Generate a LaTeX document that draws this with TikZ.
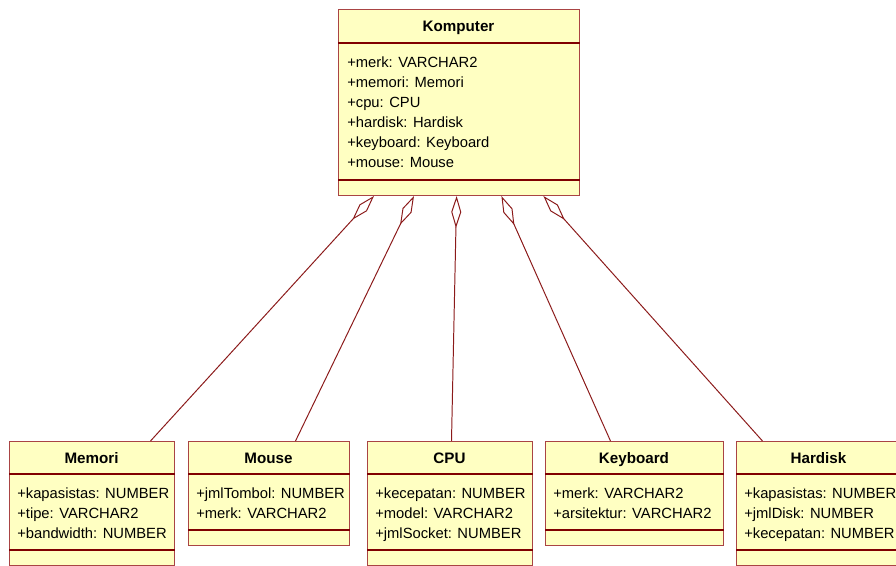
\documentclass[tikz,border=0pt]{standalone}
\usepackage{fontspec}
\setmainfont{Liberation Sans}
\usetikzlibrary{arrows.meta, positioning}
\definecolor{umlfill}{HTML}{FFFFC2}
\definecolor{umlborder}{HTML}{A94444}
\definecolor{umlsep}{HTML}{800000}
\definecolor{umlline}{HTML}{8B1A1A}

\begin{document}
\begin{tikzpicture}[
  every node/.style={font=\fontsize{10.5}{14.2}\selectfont},
  classbox/.style={rectangle, draw=umlborder, fill=umlfill, line width=0.7pt, anchor=north west, inner sep=0pt, minimum width=#1},
  classtitle/.style={font=\fontsize{10.8}{14.2}\selectfont\bfseries, inner sep=0pt, anchor=base},
  attrs/.style={align=left, anchor=north west, inner sep=0pt},
  sepline/.style={umlsep, line width=1.5pt},
  aggr/.style={umlline, line width=0.7pt, {Diamond[open, length=0.8cm, width=0.25cm]}-},
]
\useasboundingbox (0,0) rectangle (22.4,-14.15);

% Komputer
\node[classbox=6.025cm, minimum height=4.65cm] (komputer) at (8.45, -0.225) {};
\node[classtitle] (komputer-t) at (11.4625, -0.78) {Komputer};
\node[attrs] (komputer-a) at (8.675, -1.415) {+merk: VARCHAR2\\+memori: Memori\\+cpu: CPU\\+hardisk: Hardisk\\+keyboard: Keyboard\\+mouse: Mouse};
\draw[sepline] ([yshift=-0.85cm]komputer.north west) -- ([yshift=-0.85cm]komputer.north east);
\draw[sepline] ([yshift=0.4cm]komputer.south west) -- ([yshift=0.4cm]komputer.south east);

% Memori
\node[classbox=4.125cm, minimum height=3.1cm] (memori) at (0.225, -11.025) {};
\node[classtitle] (memori-t) at (2.2875, -11.58) {Memori};
\node[attrs] (memori-a) at (0.425, -12.195) {+kapasistas: NUMBER\\+tipe: VARCHAR2\\+bandwidth: NUMBER};
\draw[sepline] ([yshift=-0.825cm]memori.north west) -- ([yshift=-0.825cm]memori.north east);
\draw[sepline] ([yshift=0.4cm]memori.south west) -- ([yshift=0.4cm]memori.south east);

% Mouse
\node[classbox=4.025cm, minimum height=2.6cm] (mouse) at (4.7, -11.025) {};
\node[classtitle] (mouse-t) at (6.7125, -11.58) {Mouse};
\node[attrs] (mouse-a) at (4.9, -12.195) {+jmlTombol: NUMBER\\+merk: VARCHAR2};
\draw[sepline] ([yshift=-0.825cm]mouse.north west) -- ([yshift=-0.825cm]mouse.north east);
\draw[sepline] ([yshift=0.4cm]mouse.south west) -- ([yshift=0.4cm]mouse.south east);

% CPU
\node[classbox=4.125cm, minimum height=3.1cm] (cpu) at (9.175, -11.025) {};
\node[classtitle] (cpu-t) at (11.2375, -11.58) {CPU};
\node[attrs] (cpu-a) at (9.375, -12.195) {+kecepatan: NUMBER\\+model: VARCHAR2\\+jmlSocket: NUMBER};
\draw[sepline] ([yshift=-0.825cm]cpu.north west) -- ([yshift=-0.825cm]cpu.north east);
\draw[sepline] ([yshift=0.4cm]cpu.south west) -- ([yshift=0.4cm]cpu.south east);

% Keyboard
\node[classbox=4.45cm, minimum height=2.6cm] (keyboard) at (13.625, -11.025) {};
\node[classtitle] (keyboard-t) at (15.85, -11.58) {Keyboard};
\node[attrs] (keyboard-a) at (13.825, -12.195) {+merk: VARCHAR2\\+arsitektur: VARCHAR2};
\draw[sepline] ([yshift=-0.825cm]keyboard.north west) -- ([yshift=-0.825cm]keyboard.north east);
\draw[sepline] ([yshift=0.4cm]keyboard.south west) -- ([yshift=0.4cm]keyboard.south east);

% Hardisk
\node[classbox=4.125cm, minimum height=3.1cm] (hardisk) at (18.4, -11.025) {};
\node[classtitle] (hardisk-t) at (20.4625, -11.58) {Hardisk};
\node[attrs] (hardisk-a) at (18.6, -12.195) {+kapasistas: NUMBER\\+jmlDisk: NUMBER\\+kecepatan: NUMBER};
\draw[sepline] ([yshift=-0.825cm]hardisk.north west) -- ([yshift=-0.825cm]hardisk.north east);
\draw[sepline] ([yshift=0.4cm]hardisk.south west) -- ([yshift=0.4cm]hardisk.south east);

% Aggregations
\draw[aggr] ([xshift=-2.125cm]komputer.south) -- ([xshift=1.4625cm]memori.north);
\draw[aggr] ([xshift=-1.125cm]komputer.south) -- ([xshift=0.6625cm]mouse.north);
\draw[aggr] ([xshift=-0.06cm]komputer.south) -- ([xshift=0.0375cm]cpu.north);
\draw[aggr] ([xshift=1.06cm]komputer.south) -- ([xshift=-0.6cm]keyboard.north);
\draw[aggr] ([xshift=2.11cm]komputer.south) -- ([xshift=-1.4125cm]hardisk.north);

\end{tikzpicture}
\end{document}
